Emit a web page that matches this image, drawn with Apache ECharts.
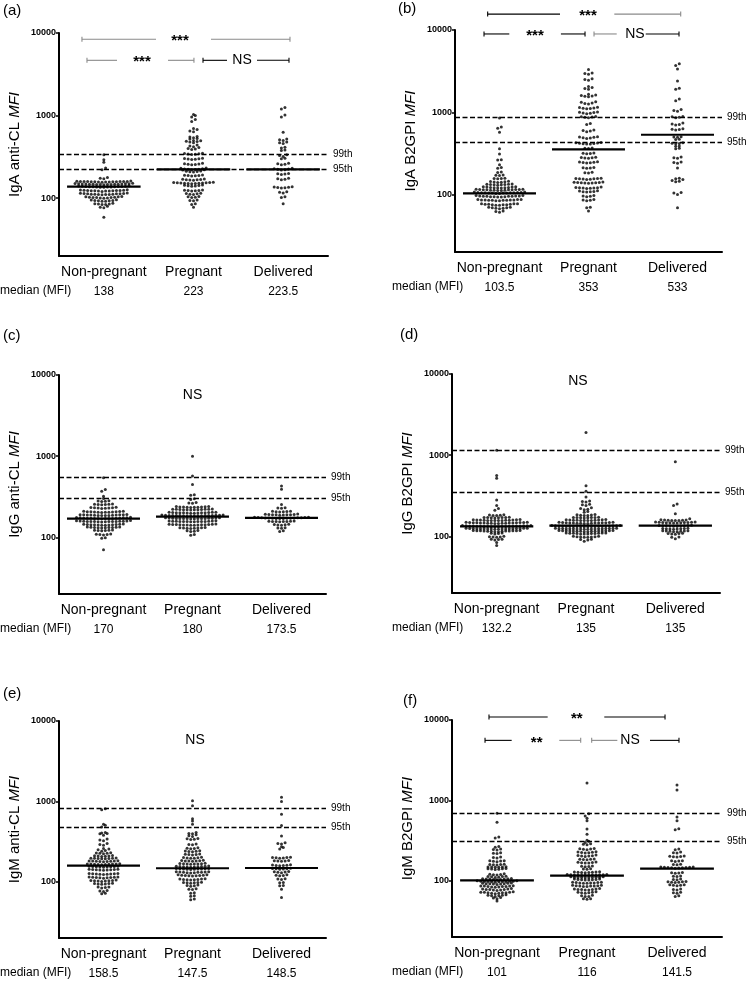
<!DOCTYPE html>
<html><head><meta charset="utf-8">
<script src="https://cdn.jsdelivr.net/npm/echarts@6/dist/echarts.min.js"></script>
<style>html,body{margin:0;padding:0;background:#fff}#c{width:750px;height:982px}</style>
</head><body><div id="c"></div>
<script>
const CATS = ['Non-pregnant', 'Pregnant', 'Delivered'];

// (a) IgA anti-CL
const A_NP = [59,77,78,80,84,85,86,85,87,84,92,93,94,95,94,93,96,92,101,102,103,104,102,101,103,105,100,102,104,111,112,113,114,112,111,113,115,110,112,114,113,111,116,122,123,124,125,123,122,124,126,121,123,125,124,122,127,136,137,138,139,140,138,137,139,141,136,138,140,137,139,142,147,148,149,150,148,147,149,151,146,148,150,149,147,152,148,150,147,157,158,159,160,158,157,159,161,156,158,160,159,157,162,158,160,172,175,178,222,232,272,292,335];
const A_P = [1030,1000,960,900,850,700,680,650,640,560,550,540,530,520,500,495,490,485,480,470,440,430,420,410,400,395,390,350,348,345,342,340,338,305,302,300,298,296,294,265,262,260,258,256,254,232,230,228,226,225,224,223,222,221,220,212,210,208,214,211,190,188,186,189,187,191,170,168,166,167,169,171,165,155,153,152,154,151,156,150,153,152,155,151,154,143,142,141,144,140,145,125,124,123,126,122,124,114,113,112,115,111,104,103,102,105,95,94,93,86,84,78];
const A_D = [1250,1200,1020,960,630,520,510,500,480,470,460,415,405,385,378,335,330,320,305,300,265,262,258,255,230,228,226,224,222,220,200,198,196,194,174,172,170,168,138,137,136,135,134,133,120,118,116,104,102,86];
const A_MED = [138, 223, 223.5];
const A_PCT = [338, 224];

// (b) IgA B2GPI
const B_NP = [850,660,640,570,360,310,265,262,230,213,208,188,185,173,171,170,158,157,156,155,145,144,143,142,141,140,131,133,130,134,132,131,133,132,121,123,120,124,122,121,123,122,124,120,115,114,113,116,112,114,115,113,116,112,114,113,115,114,105,104,106,103,105,107,104,106,103,105,104,106,105,107,104,96,95,94,97,95,93,96,94,95,97,93,96,95,94,86,85,87,84,86,85,87,84,86,85,87,86,85,76,75,77,74,76,75,77,76,75,74,77,69,68,70,68,69,70,67,62,61,63];
const B_P = [3300,3000,2950,2900,2550,2500,2450,2050,2000,1950,1900,1650,1620,1600,1580,1560,1540,1320,1300,1280,1260,1340,1130,1120,1110,1100,1140,1150,1000,990,980,970,1010,960,880,870,860,890,875,730,710,610,600,590,580,500,490,480,495,485,505,425,420,415,430,410,418,422,412,368,362,365,318,315,312,320,282,280,278,276,284,248,245,242,246,244,250,213,210,208,212,184,182,186,157,155,153,156,154,158,152,155,140,138,139,141,137,142,139,138,140,121,120,119,122,118,121,120,123,109,108,110,107,111,108,96,95,94,97,86,85,87,84,69,70,63];
const B_D = [3900,3700,3350,2400,1960,1900,1450,1380,1080,1050,1030,880,870,860,890,740,720,700,710,620,630,610,615,505,500,495,470,465,425,420,415,418,390,385,365,360,280,275,285,245,240,248,210,158,155,152,145,143,148,106,104,100,69];
const B_MED = [103.5, 353, 533];
const B_PCT = [868, 430];

// (c) IgG anti-CL
const C_NP = [540,387,370,320,300,282,280,278,276,256,254,252,258,255,253,232,230,228,234,231,229,233,227,207,205,203,209,206,204,208,202,210,205,207,203,189,188,186,190,187,185,191,188,189,186,190,187,185,188,174,172,171,173,170,175,172,169,174,171,173,176,170,172,174,171,158,157,156,159,155,160,157,154,158,156,159,155,157,161,156,158,144,143,142,145,141,146,143,142,144,141,145,143,133,132,131,134,130,133,132,131,134,132,122,121,120,123,121,122,109,108,107,110,108,99,97,70];
const C_P = [1000,570,446,335,330,298,292,268,265,262,238,236,234,240,235,237,233,239,236,234,221,219,218,222,220,217,223,219,221,218,220,222,202,200,199,203,198,201,204,200,199,202,203,201,198,200,186,185,184,187,183,188,185,184,186,183,187,185,184,186,188,183,185,187,172,171,170,173,169,174,171,170,172,169,173,171,170,172,174,171,158,157,156,159,155,160,157,156,158,155,159,157,156,158,144,143,142,145,141,146,143,142,144,141,145,143,142,144,131,130,129,132,128,131,130,129,120,119,118,121,108,106];
const C_D = [430,390,253,232,230,228,210,208,206,209,207,205,191,190,189,192,188,190,191,189,187,193,174,173,172,175,171,176,173,172,174,171,175,173,172,174,170,176,158,157,156,159,155,157,158,156,144,143,142,145,141,131,130,129,120,118];
const C_MED = [170, 180, 173.5];
const C_PCT = [557, 300];

// (d) IgG B2GPI
const D_NP = [1150,560,520,280,240,220,210,183,182,181,184,180,171,170,169,172,168,170,171,169,159,158,157,160,156,161,158,157,159,156,160,158,157,159,147,146,145,148,144,149,146,145,147,144,148,146,145,147,149,146,145,148,134,133,132,135,131,136,133,132,134,131,135,133,132,134,136,133,131,135,132,134,125,124,123,126,122,125,124,123,126,122,125,124,123,126,124,125,123,124,117,116,115,118,114,117,116,115,117,114,118,116,115,117,109,108,107,110,99,98,97,100,98,92,91,90,92,84,77];
const D_P = [1900,420,360,305,272,268,265,248,244,240,224,220,216,212,202,198,183,182,181,184,180,185,171,170,169,172,168,170,171,169,159,158,157,160,156,161,158,157,159,156,160,158,147,146,145,148,144,149,146,145,147,144,148,146,145,147,149,146,134,133,132,135,131,136,133,132,134,131,135,133,132,134,136,133,131,135,132,134,125,124,123,126,122,125,124,123,126,122,125,124,123,126,124,125,123,124,117,116,115,118,114,117,116,115,117,114,118,116,115,117,116,115,109,108,107,110,108,109,107,110,108,109,107,110,99,98,97,100,98,99,97,100,92,91,90,87];
const D_D = [830,250,240,190,165,159,158,157,160,156,158,159,157,148,147,149,146,148,150,147,149,146,148,150,147,135,134,136,133,137,135,134,136,133,135,124,123,125,122,126,124,123,125,116,115,117,114,116,115,117,114,108,107,109,106,108,98,97,93];
const D_MED = [132.2, 135, 135];
const D_PCT = [1153, 352];

// (e) IgM anti-CL
const E_NP = [810,790,520,505,480,410,405,400,395,380,340,330,325,300,290,285,260,255,250,245,240,228,226,224,230,227,211,209,208,212,210,207,196,195,194,197,193,198,195,196,181,180,179,182,178,183,180,181,179,166,165,164,167,163,168,165,166,164,167,155,154,153,156,152,155,154,153,156,142,141,140,143,139,142,141,140,143,126,125,124,127,123,126,125,124,127,114,113,112,115,111,114,113,112,115,104,103,102,105,101,104,103,102,95,94,93,96,94,95,86,85,84,86,78,77,76,72,71];
const E_P = [1020,880,610,570,520,410,400,395,385,375,365,342,338,335,345,292,288,295,262,258,260,265,242,240,238,244,236,220,218,216,222,219,200,198,196,202,199,197,183,182,181,184,180,185,182,168,167,166,169,165,170,167,168,155,154,153,156,152,157,154,155,153,156,145,144,143,146,142,145,144,143,146,144,132,131,130,133,129,132,131,130,133,131,121,120,119,122,118,121,120,119,122,108,107,106,109,105,108,107,106,98,97,96,99,97,98,90,89,91,88,81,80,82,73,72,67,66,61,60];
const E_D = [1130,1000,690,500,372,305,300,295,272,268,255,202,200,198,196,199,201,183,182,181,184,180,162,160,158,161,159,163,146,145,144,147,143,145,133,132,131,134,130,121,120,119,122,109,108,107,98,97,90,89,81,64];
const E_MED = [158.5, 147.5, 148.5];
const E_PCT = [813, 477];

// (f) IgM B2GPI
const F_NP = [690,535,350,340,268,262,248,245,242,224,220,218,198,195,192,177,175,173,178,176,160,158,157,161,159,149,148,147,150,147,149,141,140,139,142,138,141,121,120,119,122,118,113,112,111,114,110,113,106,105,104,107,103,105,106,104,105,99,98,97,100,96,98,99,97,98,100,97,99,93,92,91,94,90,92,93,91,92,86,85,84,87,83,85,86,84,85,86,79,78,77,80,76,78,79,77,78,72,71,70,73,69,71,72,70,71,72,66,65,64,67,65,66,62,61,60,56];
const F_P = [1650,680,640,600,560,440,380,320,310,300,288,284,280,252,248,246,244,250,228,226,224,222,230,225,207,205,203,201,209,204,187,185,183,186,184,170,168,166,169,167,171,153,151,150,152,141,140,139,129,128,127,130,126,128,129,127,119,118,117,120,118,119,117,120,118,119,117,118,111,110,109,112,110,111,109,112,110,111,104,103,102,105,103,104,102,105,95,94,93,96,94,95,93,96,94,87,86,85,88,86,87,85,88,86,79,78,77,80,78,79,77,78,72,71,70,73,71,72,65,64,66,64,60,59,60];
const F_D = [1550,1350,620,560,445,430,248,244,228,224,222,204,201,198,202,199,178,176,174,177,161,159,158,147,146,145,148,144,146,147,145,143,148,126,125,124,127,115,114,113,105,104,103,97,96,95,98,96,97,89,88,87,89,88,79,78,77,72,71,70,65,64];
const F_MED = [101, 116, 141.5];
const F_PCT = [683, 307];

const Y_TITLES = ['IgA anti-CL', 'IgA B2GPI', 'IgG anti-CL', 'IgG B2GPI', 'IgM anti-CL', 'IgM B2GPI'];
const Y_TICKS = [100, 1000, 10000];

// ---------- layout & styling (not data) ----------
const FONT = 'Liberation Sans, Arial, Helvetica, sans-serif';
const GREY = '#8a8a8a';
const Y_MIN = 20, Y_MAX = 10000;
const DOT = 3.0, DOT_GAP = 3.6, ROW_H = 2.2, MED_HALF = 0.41;

const LAYOUT = [
  {letter:'(a)', lx:3, ly:12, grid:{left:59, top:33, width:269, height:223}, mx:0},
  {letter:'(b)', lx:398, ly:10, grid:{left:455, top:30, width:267, height:222}, mx:392},
  {letter:'(c)', lx:3, ly:337, grid:{left:59, top:375, width:267, height:219}, mx:0},
  {letter:'(d)', lx:400, ly:336, grid:{left:452, top:374, width:268, height:219}, mx:392},
  {letter:'(e)', lx:3, ly:695, grid:{left:59, top:721, width:267, height:217}, mx:0},
  {letter:'(f)', lx:403, ly:702, grid:{left:452, top:720, width:270, height:217}, mx:392}
];

const ANN = [
  [ {x1:0.256, x2:2.576, y:8390, tx:1.349, gl:1.082, gr:1.695, cl:GREY, cr:GREY, t:'***'},
    {x1:0.312, x2:1.505, y:4670, tx:0.926, gl:0.647, gr:1.216, cl:GREY, cr:GREY, t:'***'},
    {x1:1.606, x2:2.565, y:4670, tx:2.041, gl:1.874, gr:2.208, cl:'#000', cr:'#000', t:'NS'} ],
  [ {x1:0.367, x2:2.536, y:15600, tx:1.494, gl:1.18, gr:1.79, cl:'#000', cr:GREY, t:'***'},
    {x1:0.326, x2:1.461, y:8950, tx:0.899, gl:0.61, gr:1.19, cl:'#000', cr:'#000', t:'***'},
    {x1:1.562, x2:2.517, y:8950, tx:2.022, gl:1.817, gr:2.143, cl:GREY, cr:'#000', t:'NS'} ],
  [ {tx:1.5, y:5710, t:'NS'} ],
  [ {tx:1.41, y:8130, t:'NS'} ],
  [ {tx:1.528, y:5840, t:'NS'} ],
  [ {x1:0.411, x2:2.367, y:10900, tx:1.386, gl:1.063, gr:1.692, cl:'#000', cr:'#000', t:'**'},
    {x1:0.367, x2:1.43, y:5580, tx:0.941, gl:0.663, gr:1.192, cl:'#000', cr:GREY, t:'**'},
    {x1:1.552, x2:2.522, y:5580, tx:1.978, gl:1.837, gr:2.2, cl:GREY, cr:'#000', t:'NS'} ]
];

const PANELS = [
  {groups:[A_NP, A_P, A_D], med:A_MED, pct:A_PCT},
  {groups:[B_NP, B_P, B_D], med:B_MED, pct:B_PCT},
  {groups:[C_NP, C_P, C_D], med:C_MED, pct:C_PCT},
  {groups:[D_NP, D_P, D_D], med:D_MED, pct:D_PCT},
  {groups:[E_NP, E_P, E_D], med:E_MED, pct:E_PCT},
  {groups:[F_NP, F_P, F_D], med:F_MED, pct:F_PCT}
];

// Prism-like row beeswarm: points within ROW_H px share a row and spread sideways
function swarm(vals, gi, decPx, bandPx) {
  const sorted = vals.slice().sort((a, b) => a - b);
  const out = [];
  let row = [], start = null;
  const flush = () => {
    const n = row.length;
    const slots = [];
    for (let j = 0; j < n; j++) slots.push(j - (n - 1) / 2);
    slots.sort((a, b) => Math.abs(a) - Math.abs(b) || a - b);
    row.forEach((v, k) => out.push([gi + 0.5 + slots[k] * DOT_GAP / bandPx, v]));
    row = [];
  };
  for (const v of sorted) {
    const py = Math.log10(v) * decPx;
    if (start === null || py - start > ROW_H) { if (row.length) flush(); start = py; }
    row.push(v);
  }
  if (row.length) flush();
  return out;
}

const grids = [], xAxes = [], yAxes = [], series = [], graphics = [];
PANELS.forEach((P, p) => {
  const L = LAYOUT[p];
  const g = L.grid;
  grids.push(Object.assign({containLabel:false, outerBoundsMode:'none'}, g));
  const bandPx = g.width / 3;
  const decPx = g.height / Math.log10(Y_MAX / Y_MIN);
  const xc = xAxes.length;
  xAxes.push({
    type:'category', gridIndex:p, data:CATS, position:'bottom',
    axisLine:{lineStyle:{color:'#000', width:2}}, axisTick:{show:false},
    axisLabel:{color:'#000', fontSize:14, margin:9, interval:0, fontFamily:FONT, hideOverlap:false}
  });
  xAxes.push({type:'value', gridIndex:p, min:0, max:3, show:false});
  xAxes.push({
    type:'category', gridIndex:p, data:P.med.map(m => String(m)), position:'bottom', offset:28,
    axisLine:{show:false}, axisTick:{show:false},
    axisLabel:{color:'#000', fontSize:12, margin:2, interval:0, fontFamily:FONT}
  });
  const xv = xc + 1;
  yAxes.push({
    type:'log', logBase:10, gridIndex:p, min:Y_MIN, max:Y_MAX,
    name:Y_TITLES[p] + ' {i|MFI}', nameLocation:'middle', nameGap:37,
    nameTextStyle:{color:'#000', fontSize:15, fontFamily:FONT,
      rich:{i:{fontStyle:'italic', fontSize:15, color:'#000', fontFamily:FONT}}},
    axisLine:{show:true, lineStyle:{color:'#000', width:2}},
    axisTick:{show:true, length:3, customValues:Y_TICKS, lineStyle:{color:'#000', width:1.5}},
    axisLabel:{customValues:Y_TICKS, color:'#000', fontSize:9, fontWeight:'bold', margin:3,
      fontFamily:FONT, formatter:v => String(Math.round(v))},
    splitLine:{show:false}
  });
  P.groups.forEach((vals, gi) => {
    const s = {
      type:'scatter', xAxisIndex:xv, yAxisIndex:p, symbol:'circle', symbolSize:DOT,
      itemStyle:{color:'#000'}, silent:true, data:swarm(vals, gi, decPx, bandPx)
    };
    if (gi === 0) {
      s.markLine = {
        silent:true, symbol:['none','none'], animation:false,
        lineStyle:{type:[5,2.5], color:'#000', width:1.4},
        label:{show:true, position:'end', color:'#000', fontSize:10, distance:5, fontFamily:FONT},
        data:[{yAxis:P.pct[0], label:{formatter:'99th'}}, {yAxis:P.pct[1], label:{formatter:'95th'}}]
      };
    }
    series.push(s);
  });
  // median lines
  series.push({
    type:'custom', xAxisIndex:xv, yAxisIndex:p, silent:true,
    data:P.med.map((m, i) => [i + 0.5, m]),
    renderItem:(params, api) => {
      const c = api.value(0), m = api.value(1);
      const a = api.coord([c - MED_HALF, m]), b = api.coord([c + MED_HALF, m]);
      return {type:'line', shape:{x1:a[0], y1:a[1], x2:b[0], y2:b[1]}, style:{stroke:'#000', lineWidth:2.2}};
    }
  });
  // significance annotations
  const ann = ANN[p];
  series.push({
    type:'custom', xAxisIndex:xv, yAxisIndex:p, silent:true, clip:false,
    data:ann.map(b => [b.tx, Math.min(b.y, Y_MAX)]),
    renderItem:(params, api) => {
      const b = ann[params.dataIndex];
      const T = api.coord([b.tx, b.y]);
      const ch = [];
      const ln = (x1, y1, x2, y2, c) => ({type:'line', shape:{x1, y1, x2, y2}, style:{stroke:c, lineWidth:1.1}});
      if (b.x1 != null) {
        const x1 = api.coord([b.x1, b.y])[0], x2 = api.coord([b.x2, b.y])[0];
        const gl = api.coord([b.gl, b.y])[0], gr = api.coord([b.gr, b.y])[0];
        const y = T[1];
        ch.push(ln(x1, y, gl, y, b.cl), ln(x1, y - 2.5, x1, y + 2.5, b.cl),
                ln(gr, y, x2, y, b.cr), ln(x2, y - 2.5, x2, y + 2.5, b.cr));
      }
      const star = b.t.indexOf('*') >= 0;
      ch.push({type:'text', style:{text:b.t, x:T[0], y:T[1] + (star ? 2 : 0), align:'center', verticalAlign:'middle',
        fill:'#000', font:(star ? 'bold 15px ' : '14px ') + FONT}});
      return {type:'group', children:ch};
    }
  });
  graphics.push({type:'text', left:L.lx, top:L.ly - 9, silent:true,
    style:{text:L.letter, fill:'#000', font:'15px ' + FONT}});
  graphics.push({type:'text', left:L.mx, top:g.top + g.height + 36 - 7, silent:true,
    style:{text:'median (MFI)', fill:'#000', font:'12px ' + FONT}});
});

const chart = echarts.init(document.getElementById('c'), null, {renderer:'canvas'});
chart.setOption({
  animation:false,
  backgroundColor:'#fff',
  textStyle:{fontFamily:FONT},
  grid:grids, xAxis:xAxes, yAxis:yAxes, series:series, graphic:graphics
});
</script>
</body></html>
